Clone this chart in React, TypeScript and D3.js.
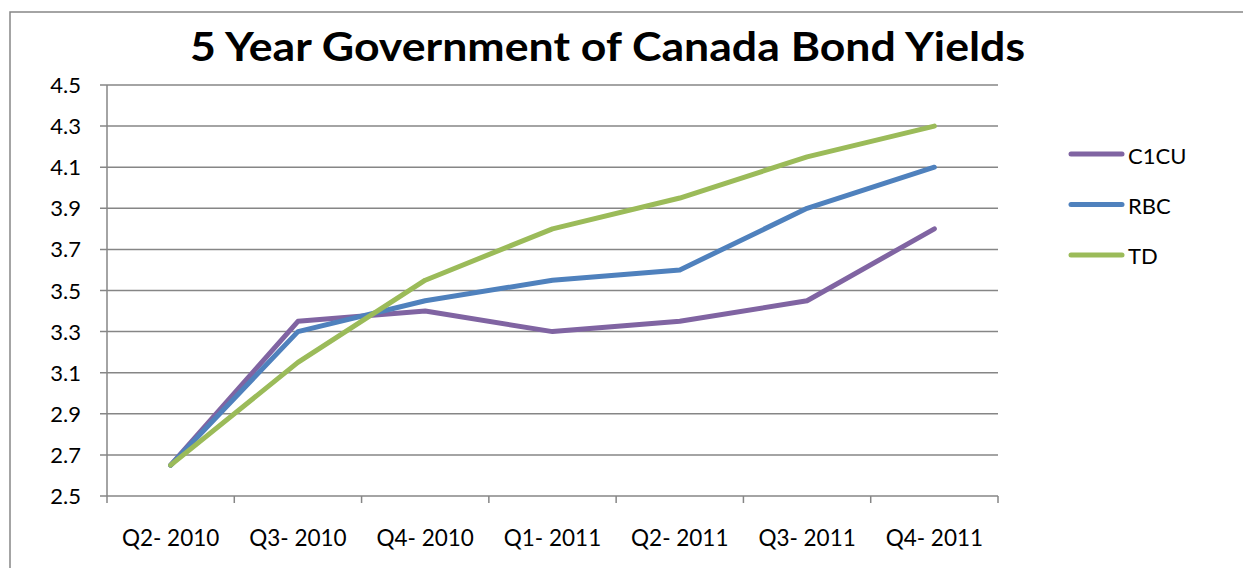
import React from "react";
import * as d3 from "d3";

const categories = ["Q2- 2010", "Q3- 2010", "Q4- 2010", "Q1- 2011", "Q2- 2011", "Q3- 2011", "Q4- 2011"];
const c1cu = [2.65, 3.35, 3.4, 3.3, 3.35, 3.45, 3.8];
const rbc = [2.65, 3.3, 3.45, 3.55, 3.6, 3.9, 4.1];
const td = [2.65, 3.15, 3.55, 3.8, 3.95, 4.15, 4.3];
const yTicks = [2.5, 2.7, 2.9, 3.1, 3.3, 3.5, 3.7, 3.9, 4.1, 4.3, 4.5];
const seriesNames = ["C1CU", "RBC", "TD"];
const seriesColors = ["#8064A2", "#4F81BD", "#9BBB59"];
const title = "5 Year Government of Canada Bond Yields";

const W = 1243;
const H = 568;
const left = 107;
const right = 998;
const top = 85;
const bottom = 496;
const font = "Lato, 'Noto Sans', sans-serif";
const titleFont = "Lato, 'Open Sans', sans-serif";

export default function App() {
  const x = d3.scaleBand<string>().domain(categories).range([left, right]);
  const y = d3.scaleLinear().domain([2.5, 4.5]).range([bottom, top]);
  const series = [c1cu, rbc, td];
  const line = d3
    .line<number>()
    .x((_, i) => (x(categories[i]) as number) + x.bandwidth() / 2)
    .y((d) => y(d));
  const boundaries = categories.map((c) => x(c) as number).concat([right]);

  return (
    <svg width={W} height={H} style={{ position: "absolute", left: 0, top: 0 }}>
      <rect x={0} y={0} width={W} height={H} fill="#fff" />
      <rect x={10} y={12} width={W + 20} height={H + 20} fill="none" stroke="#868686" strokeWidth={1.5} />
      <text
        x={190}
        y={61}
        textLength={835}
        lengthAdjust="spacingAndGlyphs"
        fontFamily={titleFont}
        fontWeight={700}
        fontSize={40}
        fill="#000"
      >
        {title}
      </text>
      {yTicks.map((t) => (
        <g key={t}>
          <line x1={100} x2={right} y1={y(t)} y2={y(t)} stroke="#868686" strokeWidth={1.5} />
          <text x={81} y={y(t) + 8} textAnchor="end" fontFamily={font} fontSize={22} fill="#000">
            {t.toFixed(1)}
          </text>
        </g>
      ))}
      <line x1={left} x2={left} y1={top} y2={bottom} stroke="#868686" strokeWidth={1.5} />
      {boundaries.map((b, i) => (
        <line key={i} x1={b} x2={b} y1={bottom} y2={bottom + 7} stroke="#868686" strokeWidth={1.5} />
      ))}
      {categories.map((c) => (
        <text
          key={c}
          x={(x(c) as number) + x.bandwidth() / 2}
          y={546}
          textAnchor="middle"
          fontFamily={font}
          fontSize={22.5}
          fill="#000"
        >
          {c}
        </text>
      ))}
      {series.map((s, i) => (
        <path
          key={seriesNames[i]}
          d={line(s) as string}
          fill="none"
          stroke={seriesColors[i]}
          strokeWidth={5}
          strokeLinejoin="round"
          strokeLinecap="round"
        />
      ))}
      {seriesNames.map((n, i) => (
        <g key={n}>
          <line
            x1={1071}
            x2={1122}
            y1={154 + i * 50.5}
            y2={154 + i * 50.5}
            stroke={seriesColors[i]}
            strokeWidth={5}
            strokeLinecap="round"
          />
          <text x={1128} y={164 + i * 50} fontFamily={font} fontSize={22} fill="#000">
            {n}
          </text>
        </g>
      ))}
    </svg>
  );
}
